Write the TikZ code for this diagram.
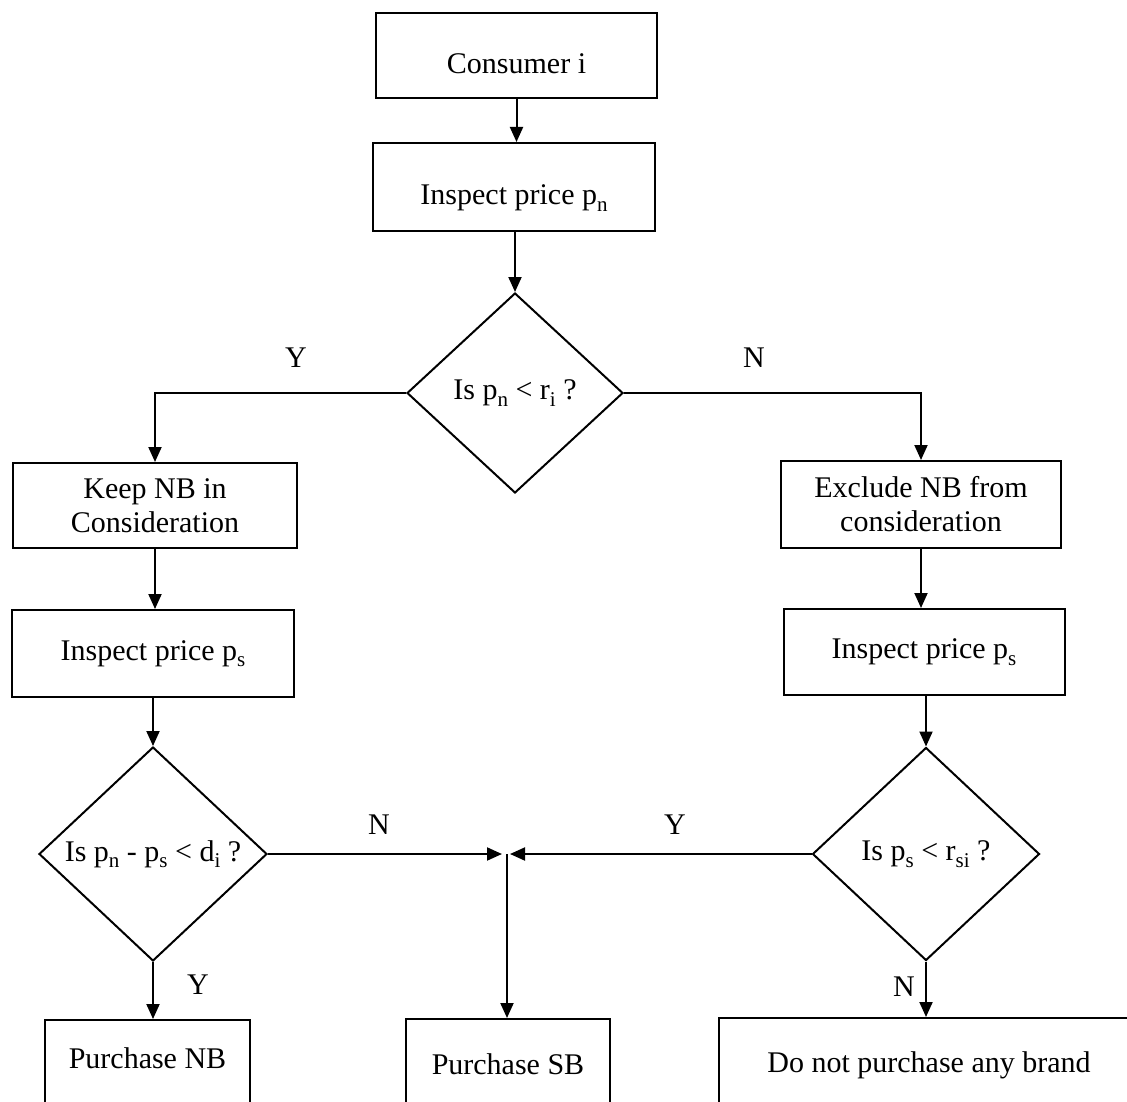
\documentclass[tikz,border=0pt]{standalone}
\usepackage{fontspec}
\setmainfont{Liberation Serif}
\usetikzlibrary{arrows.meta,shapes.geometric}
\newcommand\sbx[1]{\raisebox{-0.22em}{\fontsize{21}{21}\selectfont #1}}
\begin{document}
\begin{tikzpicture}[x=1pt,y=-1pt,
  font=\fontsize{30}{34}\selectfont,
  box/.style={draw, line width=2pt, rectangle, inner sep=0pt, align=center},
  dia/.style={draw, line width=2pt, diamond, inner sep=0pt, align=center},
  arr/.style={line width=2pt, -{Triangle[length=15pt,width=13pt]}},
  lbl/.style={inner sep=0pt}]
\useasboundingbox (0,0) rectangle (1127,1102);
\clip (0,0) rectangle (1127,1102);

% top boxes
\node[box, minimum width=281pt, minimum height=85pt, text height=36pt, text depth=0pt]
  (cons) at (516.5,55.5) {Consumer i};
\node[box, minimum width=282pt, minimum height=88pt, text height=36pt, text depth=0pt]
  (inspn) at (514,187) {Inspect price p\sbx{n}};

% first decision
\node[dia, minimum width=216pt, minimum height=200pt] (d1) at (515,393) {Is p\sbx{n} < r\sbx{i} ?};

% second level
\node[box, minimum width=284pt, minimum height=85pt] (keep) at (155,505.5) {Keep NB in\\Consideration};
\node[box, minimum width=280pt, minimum height=87pt] (excl) at (921,504.5) {Exclude NB from\\consideration};

\node[box, minimum width=282pt, minimum height=87pt] (inspsl) at (153,653.5) {Inspect price p\sbx{s}};
\node[box, minimum width=281pt, minimum height=86pt] (inspsr) at (924,652) {Inspect price p\sbx{s}};

% lower decisions
\node[dia, minimum width=228pt, minimum height=214pt] (dl) at (153,854) {Is p\sbx{n} - p\sbx{s} < d\sbx{i} ?};
\node[dia, minimum width=227pt, minimum height=213pt] (dr) at (926,854) {Is p\sbx{s} < r\sbx{si} ?};

\coordinate (m) at (507,854);

% bottom boxes (cut off by the page)
\node[box, minimum width=205pt, minimum height=100pt, text height=20pt, text depth=24pt]
  (pnb) at (147.5,1070) {Purchase NB};
\node[box, minimum width=204pt, minimum height=100pt, text height=20pt, text depth=10pt]
  (psb) at (508,1069) {Purchase SB};
\node[box, minimum width=420pt, minimum height=100pt, text height=20pt, text depth=12pt]
  (dnp) at (929,1068) {Do not purchase any brand};

% connectors
\draw[arr] (cons.south) -- (cons.south |- inspn.north);
\draw[arr] (inspn.south -| d1.north) -- (d1.north);
\draw[arr] (d1.west) -| (keep.north);
\draw[arr] (d1.east) -| (excl.north);
\draw[arr] (keep.south) -- (inspsl.north -| keep.south);
\draw[arr] (excl.south) -- (inspsr.north -| excl.south);
\draw[arr] (inspsl.south -| dl.north) -- (dl.north);
\draw[arr] (inspsr.south -| dr.north) -- (dr.north);
\draw[arr, shorten >=5pt] (dl.east) -- (m);
\draw[arr, shorten >=3pt] (dr.west) -- (m);
\draw[arr] (m) -- (m |- psb.north);
\draw[arr] (dl.south) -- (dl.south |- pnb.north);
\draw[arr] (dr.south) -- (dr.south |- dnp.north);

% branch labels
\node[lbl] (ly1) at (296,358) {Y};
\node[lbl] (ln1) at (754,358) {N};
\node[lbl] (ln2) at (379,825) {N};
\node[lbl] (ly2) at (675,825) {Y};
\node[lbl] (ly3) at (198,985) {Y};
\node[lbl] (ln3) at (904,987) {N};
\end{tikzpicture}
\end{document}
